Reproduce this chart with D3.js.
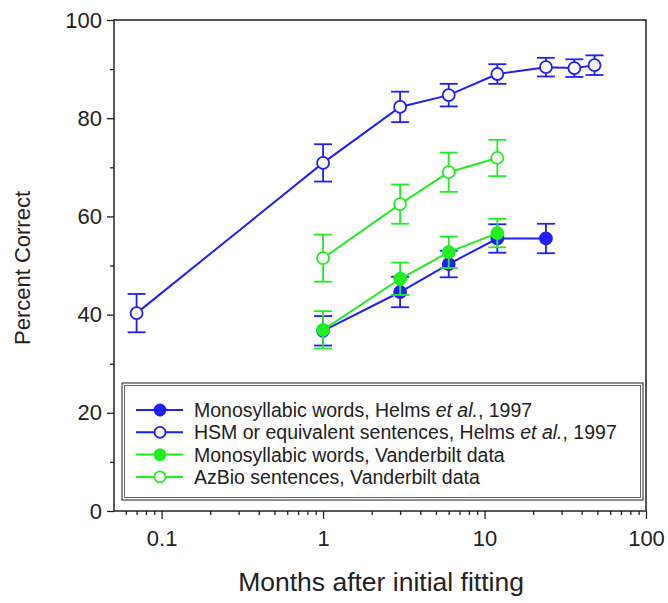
<!DOCTYPE html>
<html>
<head>
<meta charset="utf-8">
<script src="https://cdn.jsdelivr.net/npm/d3@7"></script>
<style>
  body { margin: 0; background: #fff; }
  svg { font-family: Arial, "Liberation Sans", sans-serif; }
</style>
</head>
<body>
<svg id="chart" width="668" height="603"></svg>
<script>
// x = months, y = percent correct, err = half height of the error bar
const helmsWordsX = [1, 3, 6, 12, 24];
const helmsWordsY = [36.7, 44.6, 50.3, 55.5, 55.5];
const helmsWordsErr = [3.0, 3.1, 2.7, 2.9, 3.0];

const helmsSentX = [0.07, 1, 3, 6, 12, 24, 36, 48];
const helmsSentY = [40.3, 70.9, 82.3, 84.7, 89.0, 90.4, 90.2, 90.8];
const helmsSentErr = [3.9, 3.8, 3.1, 2.3, 2.0, 1.9, 1.8, 2.0];

const vandWordsX = [1, 3, 6, 12];
const vandWordsY = [36.9, 47.3, 52.7, 56.6];
const vandWordsErr = [3.8, 3.3, 3.2, 2.9];

const azbioX = [1, 3, 6, 12];
const azbioY = [51.5, 62.5, 69.0, 71.9];
const azbioErr = [4.8, 4.0, 4.0, 3.7];

const legendLabels = [
  ["Monosyllabic words, Helms ", "et al.", ", 1997"],
  ["HSM or equivalent sentences, Helms ", "et al.", ", 1997"],
  ["Monosyllabic words, Vanderbilt data"],
  ["AzBio sentences, Vanderbilt data"]
];

const xMajor = [0.1, 1, 10, 100];
const xMinor = [0.06, 0.07, 0.08, 0.09,
  0.2, 0.3, 0.4, 0.5, 0.6, 0.7, 0.8, 0.9,
  2, 3, 4, 5, 6, 7, 8, 9,
  20, 30, 40, 50, 60, 70, 80, 90];
const yMajor = [0, 20, 40, 60, 80, 100];
const yMinor = [10, 30, 50, 70, 90];

const BLUE = "#1f1fff";
const GREEN = "#22ee22";

var svg = d3.select("#chart");

var x = d3.scaleLog().domain([0.05, 100]).range([113, 646]);
var y = d3.scaleLinear().domain([0, 100]).range([511, 20]);

//軸
function xAxis(vals, size){
  svg.append("g")
    .attr("transform", "translate(0,511)")
    .call(d3.axisBottom(x).tickValues(vals).tickSize(size).tickFormat(size > 5 ? d3.format("") : ""))
    .call(g => g.select(".domain").remove())
    .call(g => g.selectAll("line").attr("stroke", "#222").attr("stroke-width", 1.3))
    .call(g => g.selectAll("text").attr("font-size", 22).attr("fill", "#222").attr("dy", "1.1em"));
}
function yAxis(vals, size){
  svg.append("g")
    .attr("transform", "translate(114,0)")
    .call(d3.axisLeft(y).tickValues(vals).tickSize(size).tickFormat(size > 5 ? d3.format("") : ""))
    .call(g => g.select(".domain").remove())
    .call(g => g.selectAll("line").attr("stroke", "#222").attr("stroke-width", 1.3))
    .call(g => g.selectAll("text").attr("font-size", 22).attr("fill", "#222").attr("x", -12));
}
xAxis(xMinor, 4);
xAxis(xMajor, 8);
yAxis(yMinor, 4);
yAxis(yMajor, 7);

svg.append("rect")
  .attr("x", 114).attr("y", 20)
  .attr("width", 646 - 114).attr("height", 511 - 20)
  .attr("fill", "none").attr("stroke", "#222").attr("stroke-width", 1.5);

// axis titles
svg.append("text")
  .attr("x", 381).attr("y", 591)
  .attr("text-anchor", "middle")
  .attr("font-size", 26.5).attr("fill", "#222")
  .text("Months after initial fitting");
svg.append("text")
  .attr("transform", "translate(30,268) rotate(-90)")
  .attr("text-anchor", "middle")
  .attr("font-size", 22).attr("fill", "#222")
  .text("Percent Correct");

//系列描画
function drawSeries(xs, ys, errs, color, filled){
  var pts = xs.map((d, i) => ({x: d, y: ys[i], e: errs[i]}));
  var g = svg.append("g");
  g.append("path")
    .datum(pts)
    .attr("fill", "none")
    .attr("stroke", color)
    .attr("stroke-width", 2)
    .attr("d", d3.line().x(d => x(d.x)).y(d => y(d.y)));
  var eb = g.selectAll(".err").data(pts).enter().append("g")
    .attr("stroke", color).attr("stroke-width", 1.8);
  eb.append("line")
    .attr("x1", d => x(d.x)).attr("x2", d => x(d.x))
    .attr("y1", d => y(d.y + d.e)).attr("y2", d => y(d.y - d.e));
  eb.append("line")
    .attr("x1", d => x(d.x) - 9).attr("x2", d => x(d.x) + 9)
    .attr("y1", d => y(d.y + d.e)).attr("y2", d => y(d.y + d.e));
  eb.append("line")
    .attr("x1", d => x(d.x) - 9).attr("x2", d => x(d.x) + 9)
    .attr("y1", d => y(d.y - d.e)).attr("y2", d => y(d.y - d.e));
  g.selectAll("circle").data(pts).enter().append("circle")
    .attr("cx", d => x(d.x)).attr("cy", d => y(d.y))
    .attr("r", 6)
    .attr("fill", filled ? color : "white")
    .attr("stroke", color).attr("stroke-width", 1.8);
}

drawSeries(helmsSentX, helmsSentY, helmsSentErr, BLUE, false);
drawSeries(helmsWordsX, helmsWordsY, helmsWordsErr, BLUE, true);
drawSeries(azbioX, azbioY, azbioErr, GREEN, false);
drawSeries(vandWordsX, vandWordsY, vandWordsErr, GREEN, true);

//凡例
var leg = svg.append("g");
leg.append("rect")
  .attr("x", 122).attr("y", 383).attr("width", 521).attr("height", 117)
  .attr("fill", "white").attr("stroke", "#444").attr("stroke-width", 1.2);
leg.append("rect")
  .attr("x", 124.5).attr("y", 385.5).attr("width", 516).attr("height", 112)
  .attr("fill", "none").attr("stroke", "#666").attr("stroke-width", 1);

var legColors = [BLUE, BLUE, GREEN, GREEN];
var legFilled = [true, false, true, false];
legendLabels.forEach(function(parts, i){
  var ly = 410 + i * 22.3;
  leg.append("line")
    .attr("x1", 136).attr("x2", 183).attr("y1", ly).attr("y2", ly)
    .attr("stroke", legColors[i]).attr("stroke-width", 2);
  leg.append("circle")
    .attr("cx", 160).attr("cy", ly).attr("r", 5.5)
    .attr("fill", legFilled[i] ? legColors[i] : "white")
    .attr("stroke", legColors[i]).attr("stroke-width", 1.8);
  var t = leg.append("text")
    .attr("x", 194).attr("y", ly + 7)
    .attr("font-size", 19.5).attr("fill", "#222");
  parts.forEach(function(p, j){
    t.append("tspan").text(p).attr("font-style", j == 1 ? "italic" : "normal");
  });
});
</script>
</body>
</html>
